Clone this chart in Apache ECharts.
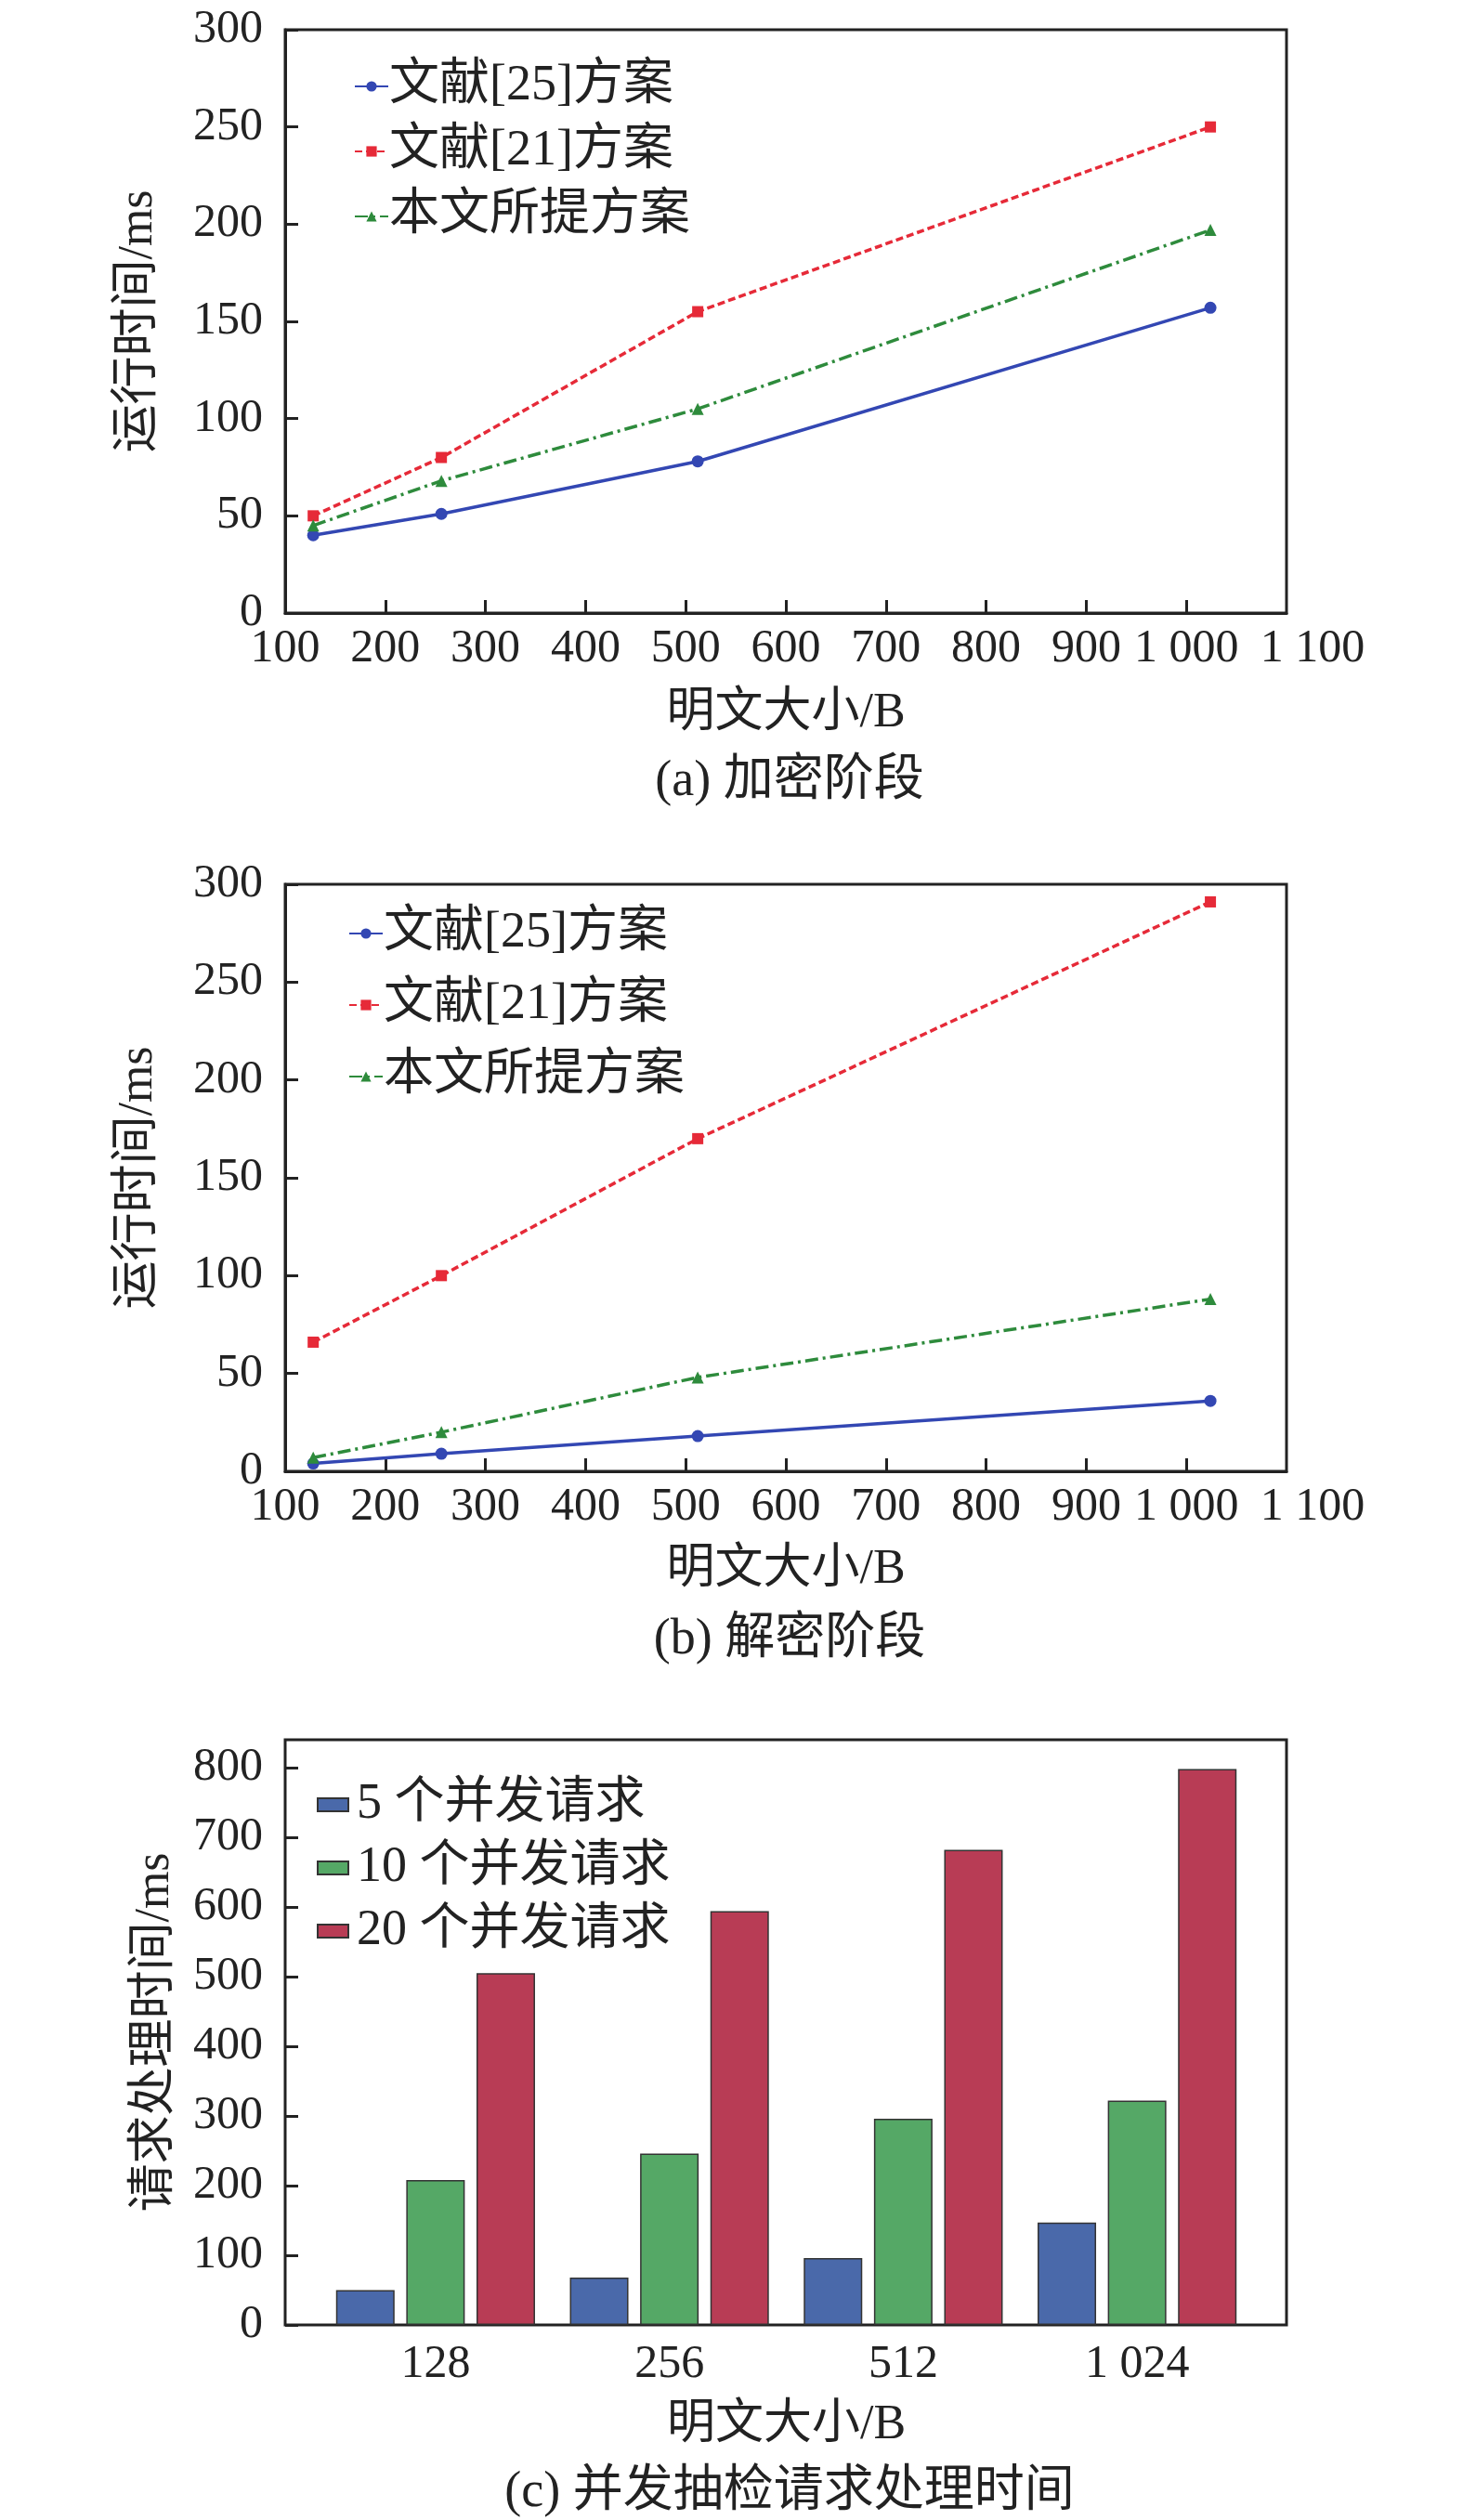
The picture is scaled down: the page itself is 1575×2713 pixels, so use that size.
<!DOCTYPE html>
<html>
<head>
<meta charset="utf-8">
<script src="https://cdn.jsdelivr.net/npm/echarts@6/dist/echarts.min.js"></script>
<style>
  html, body { margin: 0; padding: 0; background: #fff; }
  #main { width: 1575px; height: 2713px; }
</style>
</head>
<body>
<div id="main"></div>
<script>
// 明文大小 (B)
var sizes = [128, 256, 512, 1024];
var sizeLabels = ['128', '256', '512', '1024'];

// (a) 加密阶段 运行时间/ms
var encRef25 = [40, 51, 78, 157];
var encRef21 = [50, 80, 155, 250];
var encOurs = [45, 68, 105, 197];

// (b) 解密阶段 运行时间/ms
var decRef25 = [4, 9, 18, 36];
var decRef21 = [66, 100, 170, 291];
var decOurs = [7, 20, 48, 88];

// (c) 并发抽检请求处理时间/ms
var req5 = [50, 68, 96, 147];
var req10 = [208, 246, 296, 322];
var req20 = [505, 594, 682, 798];

var lineNames = ['文献[25]方案', '文献[21]方案', '本文所提方案'];
var barNames = ['5 个并发请求', '10 个并发请求', '20 个并发请求'];
var captions = ['(a) 加密阶段', '(b) 解密阶段', '(c) 并发抽检请求处理时间'];

var FONT = '"Liberation Serif", "Noto Sans CJK SC", serif';
var INK = '#222';
var X_MIN = 100, X_MAX = 1100;

function pairs(vals) {
    var res = [];
    for (var i = 0; i < sizes.length; i++) {
        res.push([sizes[i], vals[i]]);
    }
    return res;
}

// 1000 -> "1 000"
function thousands(v) {
    var s = String(v);
    if (s.length > 3) s = s.slice(0, s.length - 3) + ' ' + s.slice(-3);
    return s;
}

var axisLine = { show: true, lineStyle: { color: INK, width: 3 } };
var tickIn = { show: true, inside: true, length: 14, lineStyle: { color: INK, width: 3 } };
var labelStyle = { color: INK, fontFamily: FONT, fontSize: 50 };
var nameStyle = { color: INK, fontFamily: FONT, fontSize: 52 };

function valueX(gridIndex, gap) {
    return {
        type: 'value', gridIndex: gridIndex, min: X_MIN, max: X_MAX, interval: 100, position: 'bottom',
        name: '明文大小/B', nameLocation: 'middle', nameGap: gap, nameTextStyle: nameStyle,
        axisLine: axisLine, axisTick: tickIn, splitLine: { show: false },
        axisLabel: Object.assign({ margin: 14, formatter: thousands, showMinLabel: true, showMaxLabel: false }, labelStyle)
    };
}

// the last label ("1 100") sits a little right of its tick in the original
function lastXLabel(gridIndex) {
    return {
        type: 'value', gridIndex: gridIndex, min: X_MIN, max: X_MAX, interval: 100, position: 'bottom',
        axisLine: { show: false }, axisTick: { show: false }, splitLine: { show: false },
        axisLabel: Object.assign({
            margin: 14, showMaxLabel: true, showMinLabel: false, padding: [0, 0, 0, 56],
            formatter: function (v) { return v === X_MAX ? thousands(v) : ''; }
        }, labelStyle)
    };
}

function valueY(gridIndex) {
    return {
        type: 'value', gridIndex: gridIndex, min: 0, max: 300, interval: 50,
        name: '运行时间/ms', nameLocation: 'middle', nameGap: 132, nameTextStyle: nameStyle,
        axisLine: axisLine, axisTick: tickIn, splitLine: { show: false },
        axisLabel: Object.assign({ margin: 24, showMinLabel: true, showMaxLabel: true }, labelStyle)
    };
}

function lineSeries(idx, r25, r21, ours) {
    return [{
        name: lineNames[0], type: 'line', xAxisIndex: idx, yAxisIndex: idx,
        data: pairs(r25), symbol: 'circle', symbolSize: 13,
        color: '#3347b3', lineStyle: { width: 3.5, type: 'solid' }
    }, {
        name: lineNames[1], type: 'line', xAxisIndex: idx, yAxisIndex: idx,
        data: pairs(r21), symbol: 'rect', symbolSize: 12,
        color: '#e62a38', lineStyle: { width: 3.5, type: [8, 4] }
    }, {
        name: lineNames[2], type: 'line', xAxisIndex: idx, yAxisIndex: idx,
        data: pairs(ours), symbol: 'triangle', symbolSize: 13,
        color: '#2e8b3c', lineStyle: { width: 3.5, type: [14, 5, 3, 5] }
    }];
}

function lineLegend(left, top, gap) {
    return {
        orient: 'vertical', left: left, top: top, itemGap: gap,
        itemWidth: 36, itemHeight: 14,
        data: lineNames, textStyle: { color: INK, fontFamily: FONT, fontSize: 54, padding: [0, 0, 0, -4] }
    };
}

var frame = { show: true, borderColor: INK, borderWidth: 3, backgroundColor: 'transparent' };

var myChart = echarts.init(document.getElementById('main'));

var option = {
    backgroundColor: '#fff',
    animation: false,
    title: [
        { text: captions[0], left: 845, top: 810, textAlign: 'center', textStyle: { color: INK, fontFamily: FONT, fontSize: 54, fontWeight: 'normal' } },
        { text: captions[1], left: 845, top: 1734, textAlign: 'center', textStyle: { color: INK, fontFamily: FONT, fontSize: 54, fontWeight: 'normal' } },
        { text: captions[2], left: 845, top: 2652, textAlign: 'center', textStyle: { color: INK, fontFamily: FONT, fontSize: 54, fontWeight: 'normal' } }
    ],
    legend: [
        lineLegend(376, 61, 16),
        lineLegend(370, 973, 23),
        {
            orient: 'vertical', left: 336, top: 1911, itemGap: 14,
            itemWidth: 33, itemHeight: 14, icon: 'rect',
            data: barNames, textStyle: { color: INK, fontFamily: FONT, fontSize: 54, padding: [0, 0, 0, 4] }
        }
    ],
    grid: [
        Object.assign({ left: 307, top: 32, width: 1078, height: 628 }, frame),
        Object.assign({ left: 307, top: 952, width: 1078, height: 632 }, frame),
        { left: 343, top: 1873, width: 1007, height: 630, show: false },
        Object.assign({ left: 307, top: 1873, width: 1078, height: 630 }, frame)
    ],
    xAxis: [
        valueX(0, 82),
        valueX(1, 80),
        {
            type: 'category', gridIndex: 2, data: sizeLabels,
            name: '明文大小/B', nameLocation: 'middle', nameGap: 82, nameTextStyle: nameStyle,
            axisLine: { show: false },
            axisTick: { show: true, inside: true, alignWithLabel: true, length: 14, lineStyle: { color: INK, width: 3 } },
            axisLabel: Object.assign({ margin: 18, formatter: thousands }, labelStyle)
        },
        { type: 'value', gridIndex: 3, show: false },
        lastXLabel(0),
        lastXLabel(1)
    ],
    yAxis: [
        valueY(0),
        valueY(1),
        {
            type: 'value', gridIndex: 2, min: 0, max: 840, interval: 100, offset: 36,
            name: '请求处理时间/ms', nameLocation: 'middle', nameGap: 114, nameTextStyle: nameStyle,
            axisLine: { show: false }, axisTick: tickIn, splitLine: { show: false },
            axisLabel: Object.assign({ margin: 24, showMinLabel: true, showMaxLabel: false }, labelStyle)
        },
        { type: 'value', gridIndex: 3, show: false }
    ],
    series: lineSeries(0, encRef25, encRef21, encOurs)
        .concat(lineSeries(1, decRef25, decRef21, decOurs))
        .concat([{
            name: barNames[0], type: 'bar', xAxisIndex: 2, yAxisIndex: 2, data: req5,
            barWidth: 63, barGap: '20%',
            itemStyle: { color: '#4a69aa', borderColor: '#333', borderWidth: 1.5 }
        }, {
            name: barNames[1], type: 'bar', xAxisIndex: 2, yAxisIndex: 2, data: req10,
            barWidth: 63, barGap: '20%',
            itemStyle: { color: '#55a866', borderColor: '#333', borderWidth: 1.5 }
        }, {
            name: barNames[2], type: 'bar', xAxisIndex: 2, yAxisIndex: 2, data: req20,
            barWidth: 63, barGap: '20%',
            itemStyle: { color: '#b83c55', borderColor: '#333', borderWidth: 1.5 }
        }])
};

myChart.setOption(option);
</script>
</body>
</html>
